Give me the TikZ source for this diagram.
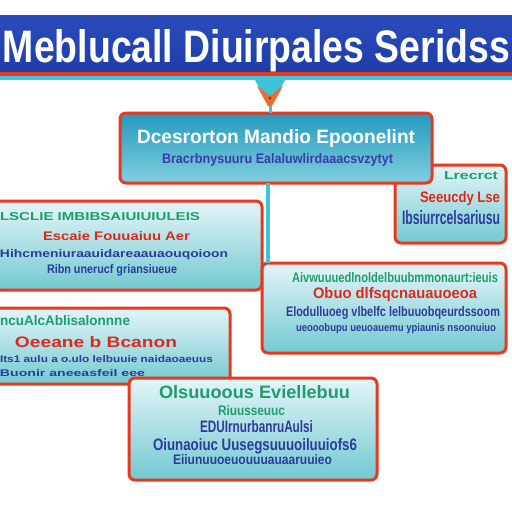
\documentclass[tikz,border=0pt]{standalone}
\usepackage{fontspec}
\setmainfont{Liberation Sans}
\usetikzlibrary{calc}
\definecolor{bannerblue}{HTML}{1E3DA8}
\definecolor{bannertop}{HTML}{2A4CBB}
\definecolor{edgered}{HTML}{E8381E}
\definecolor{stripecyan}{HTML}{3EC3DA}
\definecolor{tealtop}{HTML}{2499BE}
\definecolor{tealbot}{HTML}{80D0DE}
\definecolor{paletop}{HTML}{E4F5F8}
\definecolor{palebot}{HTML}{72C9D1}
\definecolor{txgreen}{HTML}{1E9E6E}
\definecolor{txred}{HTML}{E0281A}
\definecolor{txblue}{HTML}{2C3C9C}
\definecolor{txpurple}{HTML}{3A3CA8}
\definecolor{arroworange}{HTML}{F06A28}
\newcommand{\fitt}[3]{\resizebox{#1pt}{#2pt}{\bfseries #3}}
\tikzset{
  box/.style={draw=edgered, line width=3pt, rounded corners=6pt, inner sep=0pt, outer sep=0pt,
    top color=paletop, bottom color=palebot},
  darkbox/.style={box, top color=tealtop, bottom color=tealbot},
  txt/.style={anchor=base west, inner sep=0pt, outer sep=0pt},
  conn/.style={stripecyan, line width=4pt},
}
\begin{document}
\begin{tikzpicture}[x=1pt,y=-1pt]
\useasboundingbox (0,0) rectangle (512,512);
\fill[white] (0,0) rectangle (512,512);
\begin{scope}
\clip (0,0) rectangle (512,512);
% banner
\node[inner sep=0pt, outer sep=0pt, minimum width=520pt, minimum height=57pt,
  top color=bannertop, bottom color=bannerblue] (banner) at (256,43.5) {};
\fill[edgered] (-4,72) rectangle (516,76);
\fill[stripecyan] (-4,76) rectangle (516,80);
\node[txt, white] (title) at (3,62) {\fitt{507}{33}{Meblucall Diuirpales Seridss}};
\coordinate (bannerfoot) at (270,80);
% boxes
\node[box, minimum width=111pt, minimum height=78pt] (b2) at (450.5,204) {};
\node[darkbox, minimum width=312pt, minimum height=70pt] (b1) at (276,148) {};
\node[box, minimum width=268pt, minimum height=89pt] (b3) at (128,245.5) {};
\node[box, minimum width=244pt, minimum height=90pt] (b4) at (384,308) {};
\node[box, minimum width=236pt, minimum height=76pt] (b5) at (112,346) {};
% connectors
\draw[conn] (b1.south -| 268,0) -- (b4.north -| 268,0);
\fill[stripecyan] (255,80) -- (285,80) -- (270,108) -- cycle;
\draw[conn, line width=3pt] (270,104) -- (b1.north -| 270,0);
\fill[arroworange] (257,86) -- (270,96) -- (283,86) -- (272,106) -- (268,106) -- cycle;
\fill[black!70] (270,98) circle (1.5pt);
% box 1 text
\node[txt, white] (t11) at (137,143) {\fitt{278}{14}{Dcesrorton Mandio Epoonelint}};
\node[txt, txpurple] (t12) at (162,163) {\fitt{231}{10}{Bracrbnysuuru Ealaluwlirdaaacsvzytyt}};
% box 2 text
\node[txt, txgreen] (t21) at (444,179) {\fitt{54}{8}{Lrecrct}};
\node[txt, txred] (t22) at (420,202) {\fitt{80}{11}{Seeucdy Lse}};
\node[txt, txblue] (t23) at (402,224) {\fitt{98}{14}{Ibsiurrcelsariusu}};
% box 3 text
\node[txt, txgreen] (t31) at (0,220) {\fitt{200}{8}{LSCLIE IMBIBSAIUIUIULEIS}};
\node[txt, txred] (t32) at (43,240) {\fitt{147}{9}{Escaie Fouuaiuu Aer}};
\node[txt, txblue] (t33) at (0,257) {\fitt{228}{8}{Hihcmeniuraauidareaauaouqoioon}};
\node[txt, txblue] (t34) at (47,273) {\fitt{130}{9}{Ribn unerucf griansiueue}};
% box 4 text
\node[txt, txgreen] (t41) at (292,282) {\fitt{206}{10}{Aivwuuuedlnoldelbuubmmonaurt:ieuis}};
\node[txt, txred] (t42) at (313,298) {\fitt{164}{11}{Obuo dlfsqcnauauoeoa}};
\node[txt, txblue] (t43) at (286,316) {\fitt{214}{10}{Elodulluoeg vlbelfc lelbuuobqeurdssoom}};
\node[txt, txblue] (t44) at (296,331) {\fitt{200}{8}{ueooobupu ueuoauemu ypiaunis nsoonuiuo}};
% box 5 text
\node[txt, txgreen] (t51) at (0,325) {\fitt{130}{10}{ncuAlcAblisalonnne}};
\node[txt, txred] (t52) at (15,347) {\fitt{162}{11}{Oeeane b Bcanon}};
\node[txt, txblue] (t53) at (0,362) {\fitt{213}{7}{Its1 aulu a o.ulo lelbuuie naidaoaeuus}};
\node[txt, txblue] (t54) at (0,376) {\fitt{145}{7}{Buonir aneeasfeil eee}};
% box 6, over box 5
\node[box, minimum width=248pt, minimum height=102pt] (b6) at (253,429) {};
\node[txt, txgreen] (t61) at (159,398) {\fitt{191}{13}{Olsuuoous Eviellebuu}};
\node[txt, txgreen] (t62) at (218,415) {\fitt{67}{10}{Riuusseuuc}};
\node[txt, txblue] (t63) at (200,432) {\fitt{113}{12}{EDUIrnurbanruAulsi}};
\node[txt, txblue] (t64) at (153,450) {\fitt{204}{12}{Oiunaoiuc Uusegsuuuoiluuiofs6}};
\node[txt, txblue] (t65) at (173,464) {\fitt{159}{10}{Eiiunuuoeuouuuauaaruuieo}};
\end{scope}
\end{tikzpicture}
\end{document}
